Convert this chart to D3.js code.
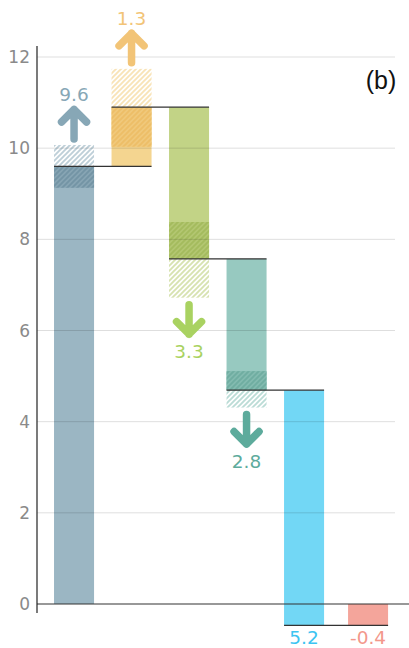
<!DOCTYPE html>
<html lang="en">
<head>
<meta charset="utf-8">
<title>Waterfall (b)</title>
<script src="https://d3js.org/d3.v7.min.js"></script>
<style>
  body { margin: 0; background: #fff; font-family: "DejaVu Sans", sans-serif; }
</style>
</head>
<body>
<script>
// ---- data ----
var cats = ["start", "rise", "drop1", "drop2", "net", "rest"];
var labels = ["9.6", "1.3", "3.3", "2.8", "5.2", "-0.4"];
var barFrom = [0, 9.6, 10.9, 7.57, 4.69, 0];
var barTo = [9.6, 10.9, 7.57, 4.69, -0.47, -0.47];
var uncLow = [9.13, 10.03, 6.72, 4.31, null, null];
var uncHigh = [10.07, 11.74, 8.38, 5.11, null, null];
var yTicks = [0, 2, 4, 6, 8, 10, 12];

var fillColors = ["#9bb6c3", "#f4d590", "#c2d386", "#97c9c0", "#72d7f5", "#f4a59b"];
var accentColors = ["#87a7b6", "#f2c477", "#a9d261", "#5dab9c", "#3cc4f1", "#f3978b"];

var w = 409, h = 648;

var svg = d3.select("body").append("svg")
  .attr("width", w)
  .attr("height", h);

var y = d3.scaleLinear().domain([0, 12]).range([604, 57]);
var x = d3.scaleBand().domain(cats)
  .range([45.4, 390.2])
  .paddingInner(0.304)
  .paddingOuter(0.15);
var bw = x.bandwidth();
// last bar sits a little apart from the rest
function bx(i) { return x(cats[i]) + (i == 5 ? 6.5 : 0); }

// colour "multiplied" with itself, like a translucent overlay of the same hue
function multiplied(c) {
  var r = d3.rgb(c);
  return d3.rgb(r.r * r.r / 255, r.g * r.g / 255, r.b * r.b / 255);
}

// hatch patterns: light stripes on white, dark stripes where it overlaps the bar
var defs = svg.append("defs");
fillColors.forEach(function(c, i) {
  var p = defs.append("pattern")
    .attr("id", "hatch" + i)
    .attr("patternUnits", "userSpaceOnUse")
    .attr("width", 5).attr("height", 5);
  p.append("path")
    .attr("d", "M-1,1 l2,-2 M0,5 l5,-5 M4,6 l2,-2")
    .attr("stroke", c)
    .attr("stroke-opacity", 0.65)
    .attr("stroke-width", 1.9);

  var mix = d3.interpolateRgb(c, multiplied(c));
  var q = defs.append("pattern")
    .attr("id", "hatchIn" + i)
    .attr("patternUnits", "userSpaceOnUse")
    .attr("width", 5).attr("height", 5);
  q.append("rect")
    .attr("width", 5).attr("height", 5)
    .attr("fill", mix(0.33));
  q.append("path")
    .attr("d", "M-1,1 l2,-2 M0,5 l5,-5 M4,6 l2,-2")
    .attr("stroke", mix(0.65))
    .attr("stroke-width", 1.9);
});

// bars
svg.selectAll("rect.bar")
  .data(cats)
  .enter().append("rect")
  .attr("class", "bar")
  .attr("x", function(d, i) { return bx(i); })
  .attr("width", bw)
  .attr("y", function(d, i) { return y(Math.max(barFrom[i], barTo[i])); })
  .attr("height", function(d, i) { return Math.abs(y(barFrom[i]) - y(barTo[i])); })
  .attr("fill", function(d, i) { return fillColors[i]; });

// uncertainty ranges
cats.forEach(function(d, i) {
  if (uncLow[i] == null) return;
  svg.append("rect")
    .attr("x", bx(i)).attr("width", bw)
    .attr("y", y(uncHigh[i])).attr("height", y(uncLow[i]) - y(uncHigh[i]))
    .attr("fill", "url(#hatch" + i + ")");
  var lo = Math.max(uncLow[i], Math.min(barFrom[i], barTo[i]));
  var hi = Math.min(uncHigh[i], Math.max(barFrom[i], barTo[i]));
  if (hi > lo) {
    svg.append("rect")
      .attr("x", bx(i)).attr("width", bw)
      .attr("y", y(hi)).attr("height", y(lo) - y(hi))
      .attr("fill", "url(#hatchIn" + i + ")");
  }
});

// gridlines (on top, light)
svg.selectAll("line.grid")
  .data(yTicks.slice(1))
  .enter().append("line")
  .attr("x1", 37).attr("x2", 395)
  .attr("y1", function(d) { return y(d); })
  .attr("y2", function(d) { return y(d); })
  .attr("stroke", "#000")
  .attr("stroke-opacity", 0.13)
  .attr("stroke-width", 1);

// tick labels
svg.selectAll("text.tick")
  .data(yTicks)
  .enter().append("text")
  .attr("x", 30)
  .attr("y", function(d) { return y(d); })
  .attr("dy", "0.36em")
  .attr("text-anchor", "end")
  .attr("font-size", 17)
  .attr("fill", "#8a8a8a")
  .text(function(d) { return d; });

// axes
svg.append("line")
  .attr("x1", 37).attr("x2", 409)
  .attr("y1", y(0)).attr("y2", y(0))
  .attr("stroke", "#333").attr("stroke-width", 1.2);
svg.append("line")
  .attr("x1", 37).attr("x2", 37)
  .attr("y1", 46).attr("y2", y(0) + 9)
  .attr("stroke", "#222").attr("stroke-width", 1.2);

// connectors between bars
for (var i = 0; i < 5; i++) {
  svg.append("line")
    .attr("x1", bx(i)).attr("x2", bx(i + 1) + bw)
    .attr("y1", y(barTo[i])).attr("y2", y(barTo[i]))
    .attr("stroke", "#333").attr("stroke-width", 1.2);
}

// arrows + value labels
cats.forEach(function(d, i) {
  var cx = bx(i) + bw / 2;
  var up = barTo[i] > barFrom[i];
  var ly;
  if (uncLow[i] != null) {
    var base, tip;
    if (up) { base = y(uncHigh[i]) - 6; tip = base - 33; ly = tip - 5; }
    else { base = y(uncLow[i]) + 7; tip = base + 33; ly = tip + 20; }
    var s = up ? 1 : -1;
    var t = tip + s * 3.5;
    svg.append("path")
      .attr("d", "M" + cx + "," + base + "L" + cx + "," + t +
        "M" + (cx - 12.5) + "," + (t + s * 12.5) + "L" + cx + "," + t + "L" + (cx + 12.5) + "," + (t + s * 12.5))
      .attr("fill", "none")
      .attr("stroke", accentColors[i])
      .attr("stroke-width", 7.5)
      .attr("stroke-linecap", "round")
      .attr("stroke-linejoin", "round");
  } else {
    ly = y(Math.min(barFrom[i], barTo[i])) + 19;
  }
  svg.append("text")
    .attr("x", cx)
    .attr("y", ly)
    .attr("text-anchor", "middle")
    .attr("font-size", 18.5)
    .attr("fill", accentColors[i])
    .text(labels[i]);
});

// panel tag
svg.append("text")
  .attr("x", 381).attr("y", 89)
  .attr("text-anchor", "middle")
  .attr("font-family", "'Liberation Sans', Arial, sans-serif")
  .attr("font-size", 25)
  .attr("fill", "#111")
  .text("(b)");
</script>
</body>
</html>
